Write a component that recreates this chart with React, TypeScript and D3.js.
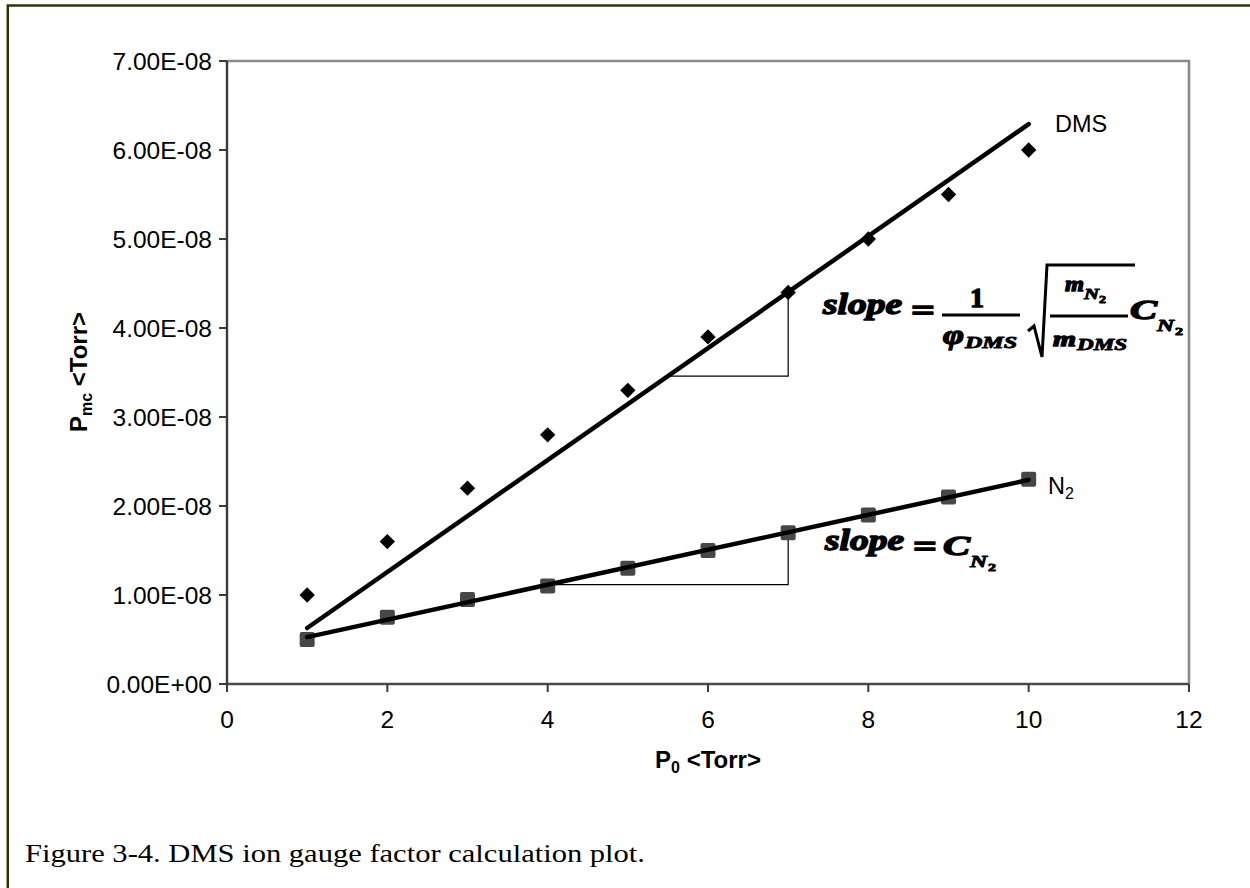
import React from "react";
import * as d3 from "d3";

// Pressure readings: P0 (Torr) against measured chamber pressure Pmc (Torr)
const pressures = [1, 2, 3, 4, 5, 6, 7, 8, 9, 10];
const dmsReadings = [1.0e-8, 1.6e-8, 2.2e-8, 2.8e-8, 3.3e-8, 3.9e-8, 4.4e-8, 5.0e-8, 5.5e-8, 6.0e-8];
const n2Readings = [0.5e-8, 0.75e-8, 0.95e-8, 1.1e-8, 1.3e-8, 1.5e-8, 1.7e-8, 1.9e-8, 2.1e-8, 2.3e-8];

const xTickValues = [0, 2, 4, 6, 8, 10, 12];
const xTickLabels = ["0", "2", "4", "6", "8", "10", "12"];
const yTickValues = [0, 1e-8, 2e-8, 3e-8, 4e-8, 5e-8, 6e-8, 7e-8];
const yTickLabels = ["0.00E+00", "1.00E-08", "2.00E-08", "3.00E-08", "4.00E-08", "5.00E-08", "6.00E-08", "7.00E-08"];

// x-range of the slope triangles drawn under each trend line
const dmsTriangle = [5.5, 7];
const n2Triangle = [4, 7];

const W = 1250;
const H = 888;
const frame = { left: 227, right: 1189, top: 61, bottom: 684 };

type Fit = { m: number; b: number };

// least-squares line; optionally forced through the origin
function fitLine(xs: number[], ys: number[], throughOrigin: boolean): Fit {
  if (throughOrigin) {
    const sxy = d3.sum(xs, (x, i) => x * ys[i]);
    const sxx = d3.sum(xs, (x) => x * x);
    return { m: sxy / sxx, b: 0 };
  }
  const mx = d3.mean(xs) as number;
  const my = d3.mean(ys) as number;
  const sxy = d3.sum(xs, (x, i) => (x - mx) * (ys[i] - my));
  const sxx = d3.sum(xs, (x) => (x - mx) * (x - mx));
  const m = sxy / sxx;
  return { m, b: my - m * mx };
}

const sans = "'Liberation Sans', Arial, Helvetica, sans-serif";
const serif = "'Liberation Serif', 'Times New Roman', serif";
const math: React.CSSProperties = { fontFamily: serif, fontWeight: 700, fontStyle: "italic" };
const mathUp: React.CSSProperties = { fontFamily: serif, fontWeight: 700 };

function MT(props: { x: number; y: number; size: number; len?: number; up?: boolean; children: React.ReactNode }) {
  const { x, y, size, len, up, children } = props;
  return (
    <text
      x={x}
      y={y}
      fontSize={size}
      style={up ? mathUp : math}
      fill="#000"
      stroke="#000"
      strokeWidth={size > 18 ? 1.4 : 0.9}
      strokeLinejoin="round"
      textLength={len}
      lengthAdjust={len ? "spacingAndGlyphs" : undefined}
    >
      {children}
    </text>
  );
}

export default function App() {
  const x = d3.scaleLinear().domain([0, 12]).range([frame.left, frame.right]);
  const y = d3.scaleLinear().domain([0, 7e-8]).range([frame.bottom, frame.top]);

  const dmsFit = fitLine(pressures, dmsReadings, true);
  const n2Fit = fitLine(pressures, n2Readings, false);
  const fitAt = (f: Fit, v: number) => f.m * v + f.b;

  const trend = (f: Fit) =>
    d3
      .line<number>()
      .x((v) => x(v))
      .y((v) => y(fitAt(f, v)))([pressures[0], pressures[pressures.length - 1]]) as string;

  const triangle = (f: Fit, r: number[]) => {
    const [a, b] = r;
    return `M${x(a)},${y(fitAt(f, a))} H${x(b)} V${y(fitAt(f, b))}`;
  };

  const diamond = d3.symbol().type(d3.symbolDiamond2).size(150)() as string;

  return (
    <svg
      width={W}
      height={H}
      viewBox={`0 0 ${W} ${H}`}
      style={{ position: "absolute", left: 0, top: 0, background: "#fff" }}
    >
      <rect x={0} y={0} width={W} height={H} fill="#fff" />
      {/* page frame around the figure */}
      <path d={`M7.8,${H + 10} V5.5 H${W + 10}`} fill="none" stroke="#333300" strokeWidth={2.5} />

      {/* plot area frame */}
      <path
        d={`M${frame.left},${frame.top} H${frame.right} V${frame.bottom}`}
        fill="none"
        stroke="#8a8a8a"
        strokeWidth={2.6}
      />
      <line x1={frame.left} x2={frame.right} y1={frame.bottom} y2={frame.bottom} stroke="#4a4a4a" strokeWidth={2.4} />
      <line x1={frame.left} x2={frame.left} y1={frame.top} y2={frame.bottom} stroke="#3a3a3a" strokeWidth={2.4} />

      {/* y axis */}
      {yTickValues.map((v, i) => (
        <g key={"y" + i}>
          <line x1={frame.left - 8} x2={frame.left} y1={y(v)} y2={y(v)} stroke="#3a3a3a" strokeWidth={2} />
          <text
            x={212}
            y={y(v)}
            dy="0.35em"
            textAnchor="end"
            fontFamily={sans}
            fontSize={24.5}
            fill="#000"
          >
            {yTickLabels[i]}
          </text>
        </g>
      ))}

      {/* x axis */}
      {xTickValues.map((v, i) => (
        <g key={"x" + i}>
          <line x1={x(v)} x2={x(v)} y1={frame.bottom} y2={frame.bottom + 8} stroke="#3a3a3a" strokeWidth={2} />
          <text x={x(v)} y={728} textAnchor="middle" fontFamily={sans} fontSize={24.5} fill="#000">
            {xTickLabels[i]}
          </text>
        </g>
      ))}

      {/* axis titles */}
      <text x={708} y={768} textAnchor="middle" fontFamily={sans} fontWeight={700} fontSize={24} fill="#000">
        P<tspan fontSize={16} dy={5}>0</tspan>
        <tspan dy={-5}> &lt;Torr&gt;</tspan>
      </text>
      <text
        transform={`translate(87,372) rotate(-90)`}
        textAnchor="middle"
        fontFamily={sans}
        fontWeight={700}
        fontSize={24}
        fill="#000"
      >
        P<tspan fontSize={16} dy={5}>mc</tspan>
        <tspan dy={-5}> &lt;Torr&gt;</tspan>
      </text>

      {/* slope triangles */}
      <path d={triangle(dmsFit, dmsTriangle)} fill="none" stroke="#000" strokeWidth={1.2} />
      <path d={triangle(n2Fit, n2Triangle)} fill="none" stroke="#000" strokeWidth={1.2} />

      {/* N2 markers */}
      {pressures.map((p, i) => (
        <rect
          key={"n" + i}
          x={x(p) - 7.5}
          y={y(n2Readings[i]) - 7.5}
          width={15}
          height={15}
          rx={2}
          fill="#474747"
        />
      ))}
      {/* DMS markers */}
      {pressures.map((p, i) => (
        <path key={"d" + i} d={diamond} transform={`translate(${x(p)},${y(dmsReadings[i])})`} fill="#000" />
      ))}

      {/* trend lines */}
      <path d={trend(dmsFit)} fill="none" stroke="#000" strokeWidth={4.5} strokeLinecap="round" />
      <path d={trend(n2Fit)} fill="none" stroke="#000" strokeWidth={4.5} strokeLinecap="round" />

      {/* series labels */}
      <text x={1055} y={132} fontFamily={sans} fontSize={23.5} fill="#000">
        DMS
      </text>
      <text x={1048} y={494} fontFamily={sans} fontSize={23.5} fill="#000">
        N<tspan fontSize={16} dy={5}>2</tspan>
      </text>

      {/* DMS slope expression */}
      <MT x={823} y={314} size={29} len={79}>slope</MT>
      <MT x={911} y={321} size={32} len={24} up>=</MT>
      <MT x={970} y={307} size={28} up>1</MT>
      <line x1={942} x2={1020} y1={315} y2={315} stroke="#000" strokeWidth={3} />
      <MT x={943} y={344} size={27} len={21}>φ</MT>
      <MT x={965} y={348} size={17} len={52}>DMS</MT>
      <path
        d="M1028,331 L1034,326 L1042,357 L1047,265 L1135,265"
        fill="none"
        stroke="#000"
        strokeWidth={3}
        strokeLinejoin="miter"
      />
      <MT x={1065} y={291} size={22} len={19}>m</MT>
      <MT x={1084} y={299} size={15} len={15}>N</MT>
      <MT x={1099} y={303} size={11} len={7} up>2</MT>
      <line x1={1050} x2={1128} y1={316} y2={316} stroke="#000" strokeWidth={3} />
      <MT x={1053} y={346} size={22} len={23}>m</MT>
      <MT x={1077} y={350} size={17} len={50}>DMS</MT>
      <MT x={1130} y={319} size={28} len={27}>C</MT>
      <MT x={1157} y={331} size={16} len={17}>N</MT>
      <MT x={1175} y={335} size={11} len={8} up>2</MT>

      {/* N2 slope expression */}
      <MT x={825} y={550} size={29} len={79}>slope</MT>
      <MT x={913} y={557} size={32} len={24} up>=</MT>
      <MT x={943} y={555} size={28} len={27}>C</MT>
      <MT x={970} y={567} size={16} len={17}>N</MT>
      <MT x={988} y={571} size={11} len={8} up>2</MT>

      {/* caption */}
      <text x={25} y={862} fontFamily={serif} fontSize={26} fill="#000" textLength={620} lengthAdjust="spacingAndGlyphs">
        Figure 3-4. DMS ion gauge factor calculation plot.
      </text>
    </svg>
  );
}
